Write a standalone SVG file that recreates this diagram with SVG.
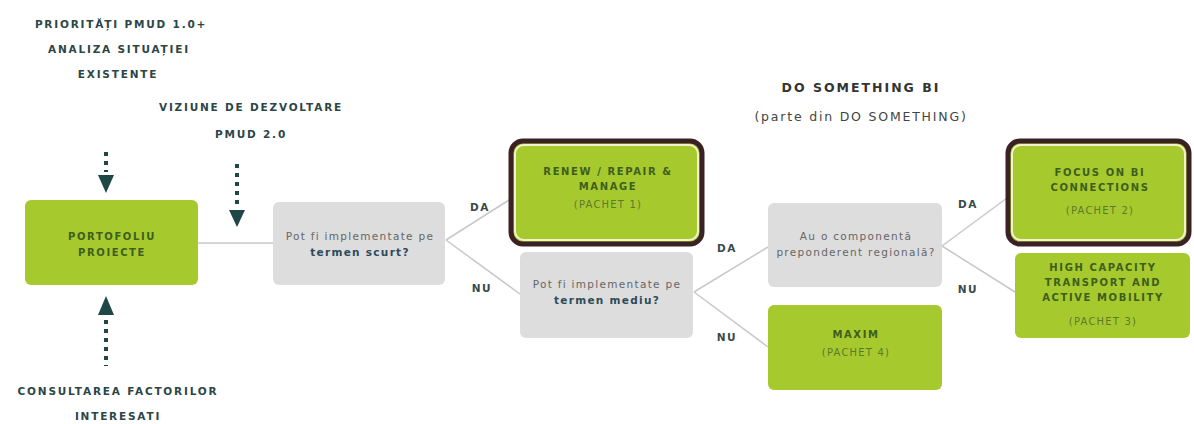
<svg xmlns="http://www.w3.org/2000/svg" width="1194" height="424" viewBox="0 0 1194 424">
  <defs>
    <style>
      text { font-family: "DejaVu Sans", "Liberation Sans", sans-serif; text-anchor: middle; }
      .lbl { font-size: 10.5px; font-weight: 700; fill: #2c4646; letter-spacing: 1.8px; }
      .head { font-size: 12.5px; font-weight: 700; fill: #333333; letter-spacing: 2px; }
      .sub { font-size: 12.5px; fill: #444444; letter-spacing: 1.8px; }
      .green { fill: #a6c92e; }
      .grey { fill: #dddddd; }
      .gt { font-size: 10px; font-weight: 700; fill: #3e5e1d; letter-spacing: 1.6px; }
      .pk { font-size: 10px; fill: #5d7a2c; letter-spacing: 1.2px; }
      .q { font-size: 10.5px; fill: #666666; letter-spacing: 1.3px; }
      .qb { font-size: 10.5px; font-weight: 700; fill: #2e4a5a; letter-spacing: 1.3px; }
      .yn { font-size: 10.5px; font-weight: 700; fill: #3a4a4a; letter-spacing: 1.5px; }
      .edge { stroke: #c8c8cc; stroke-width: 1.5; fill: none; }
      .dots { stroke: #1f4747; stroke-width: 4; stroke-dasharray: 4 5; fill: none; }
      .frame { fill: none; stroke: #3a2224; stroke-width: 5; }
      .inner { fill: none; stroke: #f4f2cc; stroke-width: 2; }
    </style>
  </defs>

  <!-- source texts -->
  <g id="inputs">
    <text class="lbl" x="121" y="28">PRIORITĂȚI PMUD 1.0+</text>
    <text class="lbl" x="119" y="53">ANALIZA SITUAȚIEI</text>
    <text class="lbl" x="118" y="78">EXISTENTE</text>
    <text class="lbl" x="251" y="111">VIZIUNE DE DEZVOLTARE</text>
    <text class="lbl" x="251" y="138">PMUD 2.0</text>
    <text class="lbl" x="118" y="395">CONSULTAREA FACTORILOR</text>
    <text class="lbl" x="118" y="420">INTERESATI</text>
  </g>

  <g id="title">
    <text class="head" x="861" y="92">DO SOMETHING BI</text>
    <text class="sub" x="861" y="121">(parte din DO SOMETHING)</text>
  </g>

  <!-- connectors -->
  <g id="connectors">
    <path class="dots" d="M106 152 V172"/>
    <polygon points="98,175 114,175 106,193" fill="#1f4747"/>
    <path class="dots" d="M237 164 V206"/>
    <polygon points="229,210 245,210 237,227" fill="#1f4747"/>
    <path class="dots" d="M106 320 V366"/>
    <polygon points="98,315 114,315 106,296" fill="#1f4747"/>

    <path class="edge" d="M198 243 H273"/>
    <path class="edge" d="M446 240 L509 200"/>
    <path class="edge" d="M446 240 L520 294"/>
    <path class="edge" d="M694 292 L768 247"/>
    <path class="edge" d="M694 292 L768 347"/>
    <path class="edge" d="M942 246 L1007 198"/>
    <path class="edge" d="M942 246 L1015 292"/>

    <text class="yn" x="480" y="211">DA</text>
    <text class="yn" x="482" y="292">NU</text>
    <text class="yn" x="727" y="252">DA</text>
    <text class="yn" x="727" y="341">NU</text>
    <text class="yn" x="968" y="208">DA</text>
    <text class="yn" x="968" y="293">NU</text>
  </g>

  <g id="portofoliu">
    <rect class="green" x="25" y="200" width="173" height="85" rx="6"/>
    <text class="gt" x="112" y="240">PORTOFOLIU</text>
    <text class="gt" x="112" y="256">PROIECTE</text>
  </g>

  <g id="termen-scurt">
    <rect class="grey" x="273" y="202" width="172" height="83" rx="6"/>
    <text class="q" x="360" y="240">Pot fi implementate pe</text>
    <text class="qb" x="360" y="256">termen scurt?</text>
  </g>

  <g id="pachet-1">
    <rect class="green" x="513" y="143" width="187" height="99" rx="10"/>
    <rect class="inner" x="515" y="145" width="183" height="95" rx="9"/>
    <rect class="frame" x="511" y="141" width="191" height="103" rx="12"/>
    <text class="gt" x="608" y="175">RENEW / REPAIR &amp;</text>
    <text class="gt" x="608" y="190">MANAGE</text>
    <text class="pk" x="608" y="208">(PACHET 1)</text>
  </g>

  <g id="termen-mediu">
    <rect class="grey" x="520" y="252" width="173" height="86" rx="6"/>
    <text class="q" x="607" y="288">Pot fi implementate pe</text>
    <text class="qb" x="607" y="304">termen mediu?</text>
  </g>

  <g id="regional">
    <rect class="grey" x="768" y="203" width="174" height="84" rx="6"/>
    <text class="q" x="856" y="240">Au o componentă</text>
    <text class="q" x="856" y="256">preponderent regională?</text>
  </g>

  <g id="pachet-4">
    <rect class="green" x="768" y="305" width="174" height="85" rx="6"/>
    <text class="gt" x="856" y="338">MAXIM</text>
    <text class="pk" x="856" y="356">(PACHET 4)</text>
  </g>

  <g id="pachet-2">
    <rect class="green" x="1010" y="143" width="177" height="99" rx="10"/>
    <rect class="inner" x="1012" y="145" width="173" height="95" rx="9"/>
    <rect class="frame" x="1008" y="141" width="181" height="103" rx="12"/>
    <text class="gt" x="1100" y="176">FOCUS ON BI</text>
    <text class="gt" x="1100" y="191">CONNECTIONS</text>
    <text class="pk" x="1100" y="214">(PACHET 2)</text>
  </g>

  <g id="pachet-3">
    <rect class="green" x="1015" y="253" width="175" height="85" rx="6"/>
    <text class="gt" x="1103" y="271">HIGH CAPACITY</text>
    <text class="gt" x="1103" y="286">TRANSPORT AND</text>
    <text class="gt" x="1103" y="301">ACTIVE MOBILITY</text>
    <text class="pk" x="1103" y="325">(PACHET 3)</text>
  </g>
</svg>
